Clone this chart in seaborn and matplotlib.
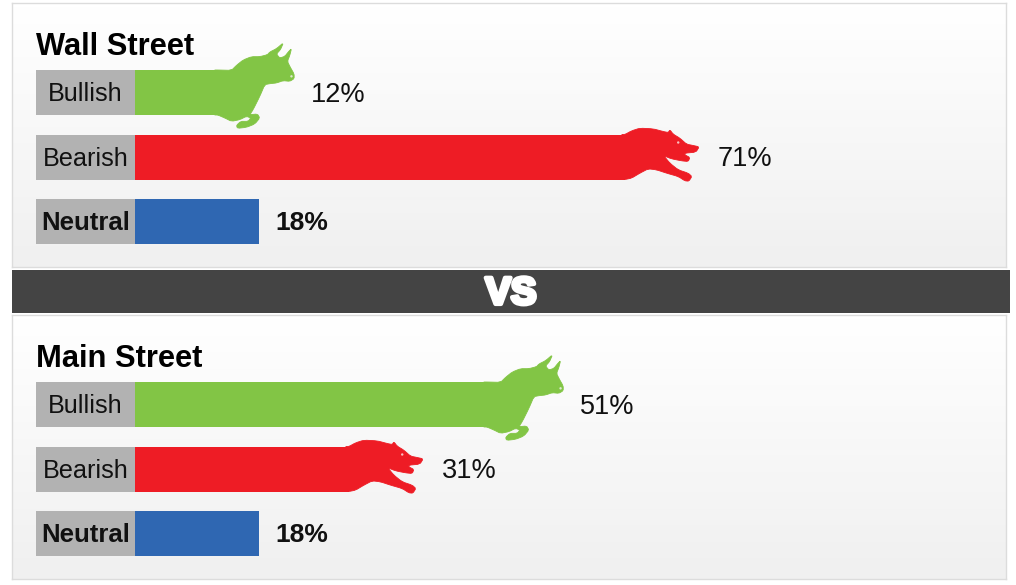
import matplotlib
matplotlib.use("Agg")
import matplotlib.pyplot as plt
import seaborn as sns
import numpy as np
from matplotlib.colors import LinearSegmentedColormap
from matplotlib.patches import Polygon, Circle, Rectangle
from matplotlib.transforms import Affine2D
import matplotlib.patheffects as pe

sns.set_style("white")
plt.rcParams['font.family'] = ['Liberation Sans', 'DejaVu Sans']

labels = ["Bullish", "Bearish", "Neutral"]
wall_street = [12, 71, 18]
main_street = [51, 31, 18]
colors = ["#82C545", "#EE1C25", "#2F67B2"]

W, H = 1016, 585
PX_PER_PCT = 6.9
ROW = 64.5


def smooth(points, origin):
    # corner cutting, the ends stay put so the shape still joins the bar
    p = np.array(points, dtype=float)
    a, b = p[:-1], p[1:]
    mid = np.empty((2 * len(a), 2))
    mid[0::2] = 0.8 * a + 0.2 * b
    mid[1::2] = 0.2 * a + 0.8 * b
    p = np.vstack([p[:1], mid, p[-1:]])
    return (p - origin) / 3


# outlines (3x crop px), made relative to the end/middle of the bar
bull = smooth([(0, 96), (9, 96), (50, 97), (65, 82), (85, 66), (110, 56), (135, 56), (158, 50), (165, 42),
               (185, 32), (206, 14), (197, 35), (185, 48), (195, 60), (210, 55), (222, 40), (230, 32),
               (225, 52), (218, 70), (225, 85), (238, 108), (238, 122), (225, 130), (205, 128), (185, 135),
               (165, 137), (150, 140), (135, 175), (115, 215), (105, 230), (128, 228), (135, 240),
               (120, 258), (95, 268), (68, 271), (65, 262), (78, 250), (100, 250), (108, 240), (95, 235),
               (75, 245), (50, 250), (30, 240), (9, 231), (0, 231)], (9, 163.5))
bear = smooth([(6, 39), (15, 39), (35, 28), (60, 20), (100, 22), (130, 30), (145, 33), (150, 25), (160, 38),
               (180, 50), (200, 68), (220, 72), (238, 76), (228, 92), (195, 95), (195, 100), (210, 108),
               (205, 120), (185, 118), (155, 112), (132, 103), (150, 125), (175, 145), (205, 155),
               (216, 165), (207, 179), (195, 178), (175, 165), (140, 155), (110, 145), (85, 142),
               (60, 155), (35, 170), (15, 174), (6, 174)], (15, 106.5))

fade = LinearSegmentedColormap.from_list("fade", ["#ffffff", "#f0f0f0"])


def animal(ax, value, row, shape, color, eye, eye_color):
    x, y = ax.transData.transform((value, row))
    tr = Affine2D().scale(1, -1).translate(x, y)
    ax.add_patch(Polygon(shape, closed=True, facecolor=color, edgecolor=color, linewidth=0.6,
                         transform=tr, zorder=3))
    ax.add_patch(Circle(eye, 1.2, facecolor=eye_color, edgecolor="none", transform=tr, zorder=4))


def panel(top, title, values):
    ax = fig.add_axes([12 / W, 1 - (top + 264) / H, 994 / W, 264 / H])
    ax.imshow(np.linspace(0, 1, 64).reshape(-1, 1), cmap=fade, aspect="auto",
              extent=(0, 1, 0, 1), transform=ax.transAxes, zorder=0)
    sns.barplot(x=values, y=labels, hue=labels, palette=colors, orient="h", width=45 / ROW,
                saturation=1, legend=False, linewidth=0, edgecolor="none", ax=ax, zorder=2)
    ax.set_xlim(-123 / PX_PER_PCT, 871 / PX_PER_PCT)
    ax.set_ylim(174.5 / ROW, -89.5 / ROW)
    ax.barh(range(3), -99 / PX_PER_PCT, height=45 / ROW, color="#B2B2B2", linewidth=0, zorder=2)
    ax.set_xticks([])
    ax.set_yticks([])
    ax.set_xlabel("")
    ax.set_ylabel("")
    for s in ax.spines.values():
        s.set_color("#dcdcdc")
        s.set_linewidth(1)

    ax.annotate(title, (36, H - (top + 52)), xycoords="figure pixels", fontsize=22.2, fontweight="bold",
                color="black", va="baseline", ha="left")

    for i, (lab, val) in enumerate(zip(labels, values)):
        neutral = lab == "Neutral"
        ax.annotate(lab, (-49.5 / PX_PER_PCT, i), xytext=(0, 1), textcoords="offset pixels",
                    ha="center", va="center_baseline", fontsize=18.5 if neutral else 18.2,
                    fontweight="bold" if neutral else "normal", color="#111111", zorder=5)
        ax.annotate(f"{val}%", (val, i), xytext=(16 if neutral else 93, 1), textcoords="offset pixels",
                    ha="left", va="center_baseline", fontsize=19 if neutral else 19.5,
                    fontweight="bold" if neutral else "normal", color="#111111", zorder=5)
    fig.canvas.draw()
    animal(ax, values[0], 0, bull, colors[0], ((230 - 9) / 3, (115 - 163.5) / 3), "#dfe8d0")
    animal(ax, values[1], 1, bear, colors[1], ((175 - 15) / 3, (63 - 106.5) / 3), "#f9c0c0")
    return ax


fig = plt.figure(figsize=(W / 100, H / 100), dpi=100, facecolor="white")

panel(3, "Wall Street", wall_street)
panel(315, "Main Street", main_street)

fig.add_artist(Rectangle((12 / W, 1 - 313 / H), 998 / W, 43 / H, transform=fig.transFigure,
                         facecolor="#444444", edgecolor="none"))
vs = fig.text(511 / W, 1 - 294 / H, "VS", color="white", fontsize=27.5, fontweight="bold",
              ha="center", va="center")
vs.set_path_effects([pe.withStroke(linewidth=3, foreground="white")])

fig.savefig("out.png", dpi=100)
